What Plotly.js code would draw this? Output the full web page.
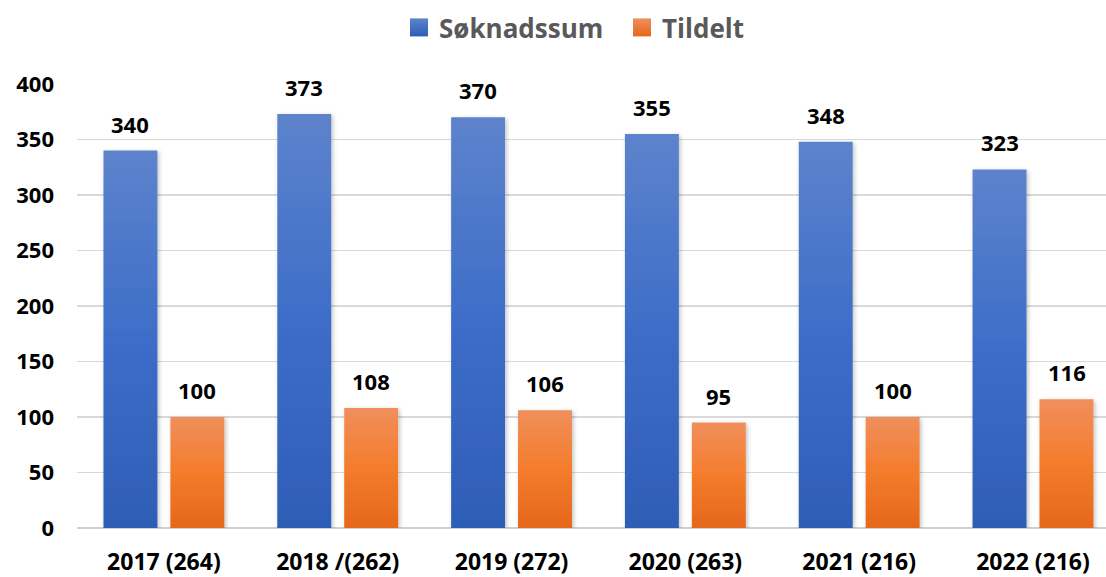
<!DOCTYPE html>
<html>
<head>
<meta charset="utf-8">
<script src="https://cdn.plot.ly/plotly-3.0.1.min.js"></script>
<style>
html,body{margin:0;padding:0;background:#fff;}
#chart{width:1106px;height:577px;}
</style>
</head>
<body>
<div id="chart"></div>
<script>
const categories = ["2017 (264)", "2018 /(262)", "2019 (272)", "2020 (263)", "2021 (216)", "2022 (216)"];
const soknadssum = [340, 373, 370, 355, 348, 323];
const tildelt = [100, 108, 106, 95, 100, 116];
const seriesNames = ["Søknadssum", "Tildelt"];
const yTicks = [0, 50, 100, 150, 200, 250, 300, 350, 400];

const FONT = "'Open Sans', 'Noto Sans', sans-serif";
const blue = "#4472c4";
const orange = "#ed7d31";

const traces = [
  {type: "bar", name: seriesNames[0], x: categories, y: soknadssum, marker: {color: blue}, hoverinfo: "none"},
  {type: "bar", name: seriesNames[1], x: categories, y: tildelt, marker: {color: orange}, hoverinfo: "none"}
];

const annotations = [];
[soknadssum, tildelt].forEach((vals, s) => {
  vals.forEach((v, i) => {
    annotations.push({
      x: categories[i], y: v, xref: "x", yref: "y",
      text: String(v), showarrow: false,
      xanchor: "center", yanchor: "bottom",
      xshift: s === 0 ? -33.5 : 33.5, yshift: 10,
      font: {family: FONT, size: 22, color: "#000", weight: 700}
    });
  });
});

const layout = {
  width: 1106, height: 577,
  margin: {l: 77, r: 0, t: 84, b: 49},
  paper_bgcolor: "#fff", plot_bgcolor: "#fff",
  barmode: "group", bargap: 0.23, bargroupgap: 0.194,
  showlegend: true,
  legend: {
    orientation: "h", x: 399 / 1106, xanchor: "left", xref: "container",
    y: 1 - 4 / 577, yref: "container", yanchor: "top",
    font: {family: FONT, size: 26, color: "#595959", weight: 700},
    traceorder: "normal",
    entrywidth: 178, entrywidthmode: "pixels"
  },
  xaxis: {
    type: "category",
    range: [-0.5, 5.42],
    showgrid: false, zeroline: false, showline: false,
    ticks: "", ticklabelstandoff: 18,
    tickfont: {family: FONT, size: 23, color: "#000", weight: 700},
    fixedrange: true
  },
  yaxis: {
    range: [0, 400],
    tickvals: yTicks,
    showgrid: true, gridcolor: "#d9d9d9", gridwidth: 1.5,
    zeroline: true, zerolinecolor: "#d0d0d0", zerolinewidth: 2,
    showline: false, ticks: "", ticklabelstandoff: 22,
    tickfont: {family: FONT, size: 22, color: "#000", weight: 700},
    fixedrange: true
  },
  annotations: annotations
};

Plotly.newPlot("chart", traces, layout, {displayModeBar: false, staticPlot: true}).then(gd => {
  const svg = gd.querySelector("svg.main-svg");
  const NS = "http://www.w3.org/2000/svg";
  const defs = document.createElementNS(NS, "defs");
  defs.innerHTML =
    '<linearGradient id="gBlue" x1="0" y1="0" x2="0" y2="1">' +
      '<stop offset="0" stop-color="#5d83cc"/><stop offset="0.5" stop-color="#3d6dc8"/><stop offset="1" stop-color="#2e5db6"/></linearGradient>' +
    '<linearGradient id="gOrange" x1="0" y1="0" x2="0" y2="1">' +
      '<stop offset="0" stop-color="#f08f5c"/><stop offset="0.5" stop-color="#f47c2c"/><stop offset="1" stop-color="#e5671b"/></linearGradient>' +
    '<filter id="shadow" x="-20%" y="-5%" width="140%" height="110%">' +
      '<feDropShadow dx="1.5" dy="1.5" stdDeviation="2" flood-color="#000" flood-opacity="0.25"/></filter>' +
    '<linearGradient id="lgBlue" x1="0" y1="0" x2="0" y2="1"><stop offset="0" stop-color="#5d83cc"/><stop offset="1" stop-color="#2e5db6"/></linearGradient>' +
    '<linearGradient id="lgOrange" x1="0" y1="0" x2="0" y2="1"><stop offset="0" stop-color="#f08f5c"/><stop offset="1" stop-color="#e5671b"/></linearGradient>';
  svg.insertBefore(defs, svg.firstChild);
  const traceGroups = gd.querySelectorAll(".barlayer .trace");
  const ids = ["gBlue", "gOrange"];
  traceGroups.forEach((g, i) => {
    g.querySelectorAll(".point path").forEach(p => {
      p.style.fill = "url(#" + ids[i] + ")";
      p.setAttribute("filter", "url(#shadow)");
    });
  });
  const legendPts = gd.querySelectorAll(".legend .traces .legendpoints path");
  legendPts.forEach((p, i) => {
    p.setAttribute("d", "M9,9H-9V-9H9Z");
    p.style.fill = "url(#" + (i === 0 ? "lgBlue" : "lgOrange") + ")";
  });
});
</script>
</body>
</html>
